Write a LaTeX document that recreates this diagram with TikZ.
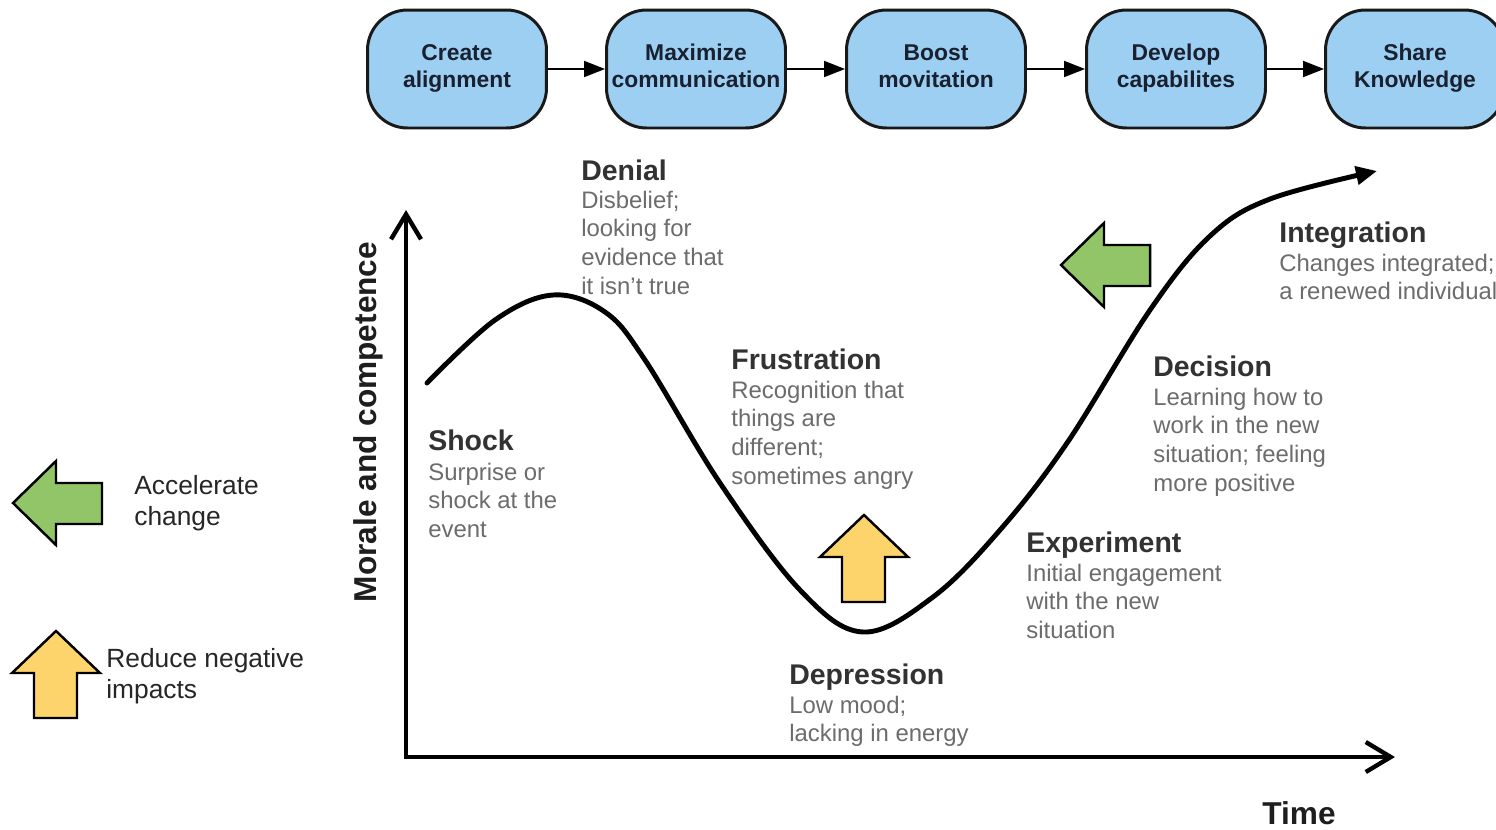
\documentclass[tikz,border=0pt]{standalone}
\usepackage{fontspec}
\setmainfont{Liberation Sans}
\usetikzlibrary{arrows.meta}
\definecolor{boxblue}{RGB}{157,207,242}
\definecolor{boxtext}{RGB}{25,32,48}
\definecolor{legGreen}{RGB}{146,197,104}
\definecolor{legYellow}{RGB}{253,212,108}
\definecolor{ttlgray}{RGB}{50,50,50}
\definecolor{dscgray}{RGB}{108,108,108}
\definecolor{axgray}{RGB}{30,30,30}
\newcommand{\stk}[1]{\begin{tabular}[t]{@{}l@{}}#1\end{tabular}}
\newcommand{\bxt}[2]{\begin{tabular}{@{}c@{}}#1\\#2\end{tabular}}
\begin{document}
\begin{tikzpicture}[x=0.02cm,y=-0.02cm,
  stepbox/.style={draw=black!90, line width=1.7pt, fill=boxblue, rounded corners=0.8cm,
    minimum width=3.58cm, minimum height=2.36cm, inner sep=0pt,
    font=\fontsize{13}{15.3}\selectfont\bfseries, text=boxtext},
  flow/.style={line width=1.1pt, -{Triangle[length=0.42cm,width=0.32cm]}},
  ttl/.style={anchor=base west, inner sep=0pt, font=\fontsize{16.2}{18}\selectfont\bfseries, text=ttlgray},
  dsc/.style={anchor=base west, inner sep=0pt, font=\fontsize{13.6}{16.4}\selectfont, text=dscgray},
  leg/.style={anchor=base west, inner sep=0pt, font=\fontsize{15}{18.1}\selectfont, text=black!85},
  axislbl/.style={inner sep=0pt, font=\fontsize{18}{20}\selectfont\bfseries, text=axgray},
  axisline/.style={line width=2.5pt, line join=miter,
    {Straight Barb[length=0.5cm,width=0.6cm,line width=2.5pt]}-{Straight Barb[length=0.5cm,width=0.6cm,line width=2.5pt]}},
  curveline/.style={line width=2.8pt, line cap=round, -{Triangle[length=0.42cm,width=0.36cm]}},
  blk/.style={draw=black, line width=1.4pt, line join=miter},
  pics/leftarrow/.style={code={\draw[blk, fill=legGreen] (0,0) -- (43,-42) -- (43,-20) -- (89,-20) -- (89,21) -- (43,21) -- (43,42) -- cycle;}},
  pics/uparrow/.style={code={\draw[blk, fill=legYellow] (0,0) -- (44,42) -- (21,42) -- (21,87) -- (-22,87) -- (-22,42) -- (-44,42) -- cycle;}}
]
\useasboundingbox (0,0) rectangle (1496,829);
\clip (0,0) rectangle (1496,829);
\fill[white] (0,0) rectangle (1496,829);

% top process
\node[stepbox] (b1) at (457,69) {\bxt{Create}{alignment}};
\node[stepbox] (b2) at (696,69) {\bxt{Maximize}{communication}};
\node[stepbox] (b3) at (936,69) {\bxt{Boost}{movitation}};
\node[stepbox] (b4) at (1176,69) {\bxt{Develop}{capabilites}};
\node[stepbox] (b5) at (1415,69) {\bxt{Share}{Knowledge}};
\draw[flow] (b1) -- (b2);
\draw[flow] (b2) -- (b3);
\draw[flow] (b3) -- (b4);
\draw[flow] (b4) -- (b5);

% axes
\coordinate (Ytop) at (406,210);
\coordinate (O) at (406,757);
\coordinate (Xend) at (1395,757);
\draw[axisline] (Ytop) -- (O) -- (Xend);
\node[axislbl, rotate=90] (ylab) at (368,422) {Morale and competence};
\node[axislbl] (xlab) at (1299,813) {Time};

% change curve
\draw[curveline] plot[smooth, tension=0.6] coordinates {
  (427,383) (495,320) (553,295) (605,312) (645,360) (720,483) (800,590)
  (863,632) (933,597) (1000,530) (1067,443) (1150,310) (1210,236)
  (1270,199) (1377,171)};

% stage labels
\node[ttl] (denT) at (581,180) {Denial};
\node[dsc] (denD) at (581,208) {\stk{Disbelief;\\looking for\\evidence that\\it isn't true}};
\node[ttl] (shoT) at (428,450) {Shock};
\node[dsc] (shoD) at (428,480) {\stk{Surprise or\\shock at the\\event}};
\node[ttl] (fruT) at (731,369) {Frustration};
\node[dsc] (fruD) at (731,398) {\stk{Recognition that\\things are\\different;\\sometimes angry}};
\node[ttl] (depT) at (789,684) {Depression};
\node[dsc] (depD) at (789,713) {\stk{Low mood;\\lacking in energy}};
\node[ttl] (expT) at (1026,552) {Experiment};
\node[dsc] (expD) at (1026,581) {\stk{Initial engagement\\with the new\\situation}};
\node[ttl] (decT) at (1153,376) {Decision};
\node[dsc] (decD) at (1153,405) {\stk{Learning how to\\work in the new\\situation; feeling\\more positive}};
\node[ttl] (intT) at (1279,242) {Integration};
\node[dsc] (intD) at (1279,271) {\stk{Changes integrated;\\a renewed individual}};

% block arrows in chart
\pic at (1061,265) {leftarrow};
\pic at (864,515) {uparrow};

% legend
\pic at (13,503) {leftarrow};
\node[leg] (legA) at (134,494) {\stk{Accelerate\\change}};
\pic at (56,631) {uparrow};
\node[leg] (legR) at (106,667) {\stk{Reduce negative\\impacts}};
\end{tikzpicture}
\end{document}
